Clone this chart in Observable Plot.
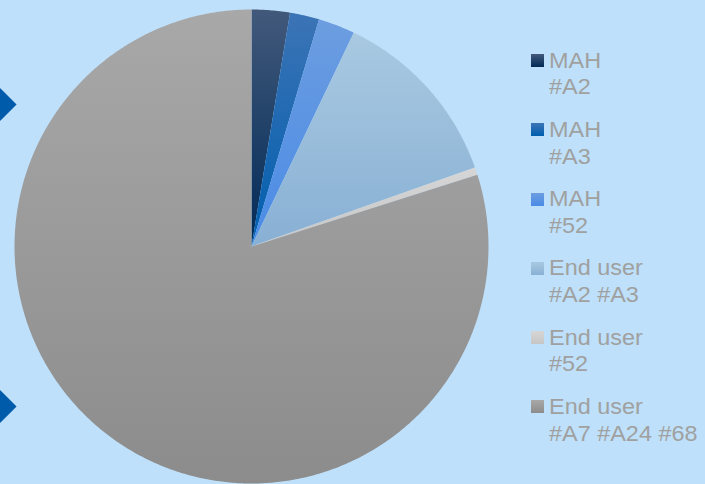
<!DOCTYPE html>
<html>
<head>
<meta charset="utf-8">
<script src="https://cdn.jsdelivr.net/npm/d3@7"></script>
<script src="https://cdn.jsdelivr.net/npm/@observablehq/plot@0.6"></script>
<style>
  html, body { margin: 0; padding: 0; background: #BEE0FA; }
  #wrap { position: relative; width: 705px; height: 484px; overflow: hidden; background: #BEE0FA;
          font-family: "Liberation Sans", Arial, sans-serif; }
  #wrap svg { position: absolute; left: 0; top: 0; }
  .diamond { position: absolute; width: 22.6px; height: 22.6px; background: #005BAA; transform: rotate(45deg); }
  .item { position: absolute; left: 531px; }
  .sw { position: absolute; left: 0; width: 13px; height: 13px; }
  .txt { position: absolute; left: 18px; top: 0; font-size: 21.5px; line-height: 26.7px; color: #A0A0A0;
         white-space: nowrap; transform: scaleX(1.09); transform-origin: left top; }
</style>
</head>
<body>
<div id="wrap"></div>
<script>
// ---- data ----
const categories = ["MAH #A2", "MAH #A3", "MAH #52", "End user #A2 #A3", "End user #52", "End user #A7 #A24 #68"];
const shares = [2.6, 2.0, 2.5, 12.5, 0.5, 79.9];

// ---- styles ----
const topColors = ["#42597B", "#3C74B6", "#6C9DE0", "#A9C9E1", "#D6D6D6", "#A8A8A8"];
const bottomColors = ["#002A56", "#005EAE", "#4A8BE6", "#88B0D4", "#C6C6C6", "#8C8C8C"];
const baseColors = ["#17365e", "#1e68b2", "#5a94e3", "#98bdda", "#cecece", "#9a9a9a"];

// ---- layout (pixels) ----
const W = 705, H = 484, cx = 251, cy = 246, R = 237;

// slice outlines derived from the shares via d3.pie (angles clockwise from 12 o'clock)
const arcs = d3.pie().sort(null).value(d => d)(shares);
const outline = [];
arcs.forEach((a, i) => {
  const c = categories[i];
  outline.push({category: c, x: cx, y: cy});
  const n = Math.max(2, Math.ceil((a.endAngle - a.startAngle) / (Math.PI / 360)));
  for (let k = 0; k <= n; k++) {
    const t = a.startAngle + (a.endAngle - a.startAngle) * k / n;
    outline.push({category: c, x: cx + R * Math.sin(t), y: cy - R * Math.cos(t)});
  }
  outline.push({category: c, x: cx, y: cy});
});

const chart = Plot.plot({
  width: W,
  height: H,
  margin: 0,
  style: {background: "#BEE0FA"},
  x: {domain: [0, W], range: [0, W], axis: null},
  y: {domain: [0, H], range: [0, H], axis: null},
  color: {domain: categories, range: baseColors},
  marks: [
    Plot.line(outline, {x: "x", y: "y", z: "category", fill: "category", stroke: "none", curve: "linear"})
  ]
});

// vertical gradients like the original slices
const svg = d3.select(chart);
const defs = svg.insert("defs", ":first-child");
baseColors.forEach((b, i) => {
  const lg = defs.append("linearGradient").attr("id", "pg" + i)
    .attr("x1", 0).attr("y1", 0).attr("x2", 0).attr("y2", 1);
  lg.append("stop").attr("offset", "0%").attr("stop-color", topColors[i]);
  lg.append("stop").attr("offset", "100%").attr("stop-color", bottomColors[i]);
});
svg.selectAll("path").each(function() {
  const f = (this.getAttribute("fill") || "").toLowerCase();
  const i = baseColors.indexOf(f);
  if (i >= 0) this.setAttribute("fill", `url(#pg${i})`);
});

const wrap = document.getElementById("wrap");
wrap.appendChild(chart);

// decorative diamonds at the left edge
[104, 406].forEach(yc => {
  const d = document.createElement("div");
  d.className = "diamond";
  d.style.left = (0 - 11.3) + "px";
  d.style.top = (yc - 11.3) + "px";
  wrap.appendChild(d);
});

// legend
categories.forEach((c, i) => {
  const capTop = 53 + 69.26 * i;
  const item = document.createElement("div");
  item.className = "item";
  item.style.top = (capTop - 5.4) + "px";
  const sw = document.createElement("div");
  sw.className = "sw";
  sw.style.top = "6.4px";
  sw.style.background = `linear-gradient(to bottom, ${topColors[i]}, ${bottomColors[i]})`;
  const k = c.indexOf(" #");
  const t = document.createElement("div");
  t.className = "txt";
  const l1 = document.createElement("div"); l1.textContent = c.slice(0, k);
  const l2 = document.createElement("div"); l2.textContent = c.slice(k + 1);
  t.appendChild(l1); t.appendChild(l2);
  item.appendChild(sw); item.appendChild(t);
  wrap.appendChild(item);
});
</script>
</body>
</html>
